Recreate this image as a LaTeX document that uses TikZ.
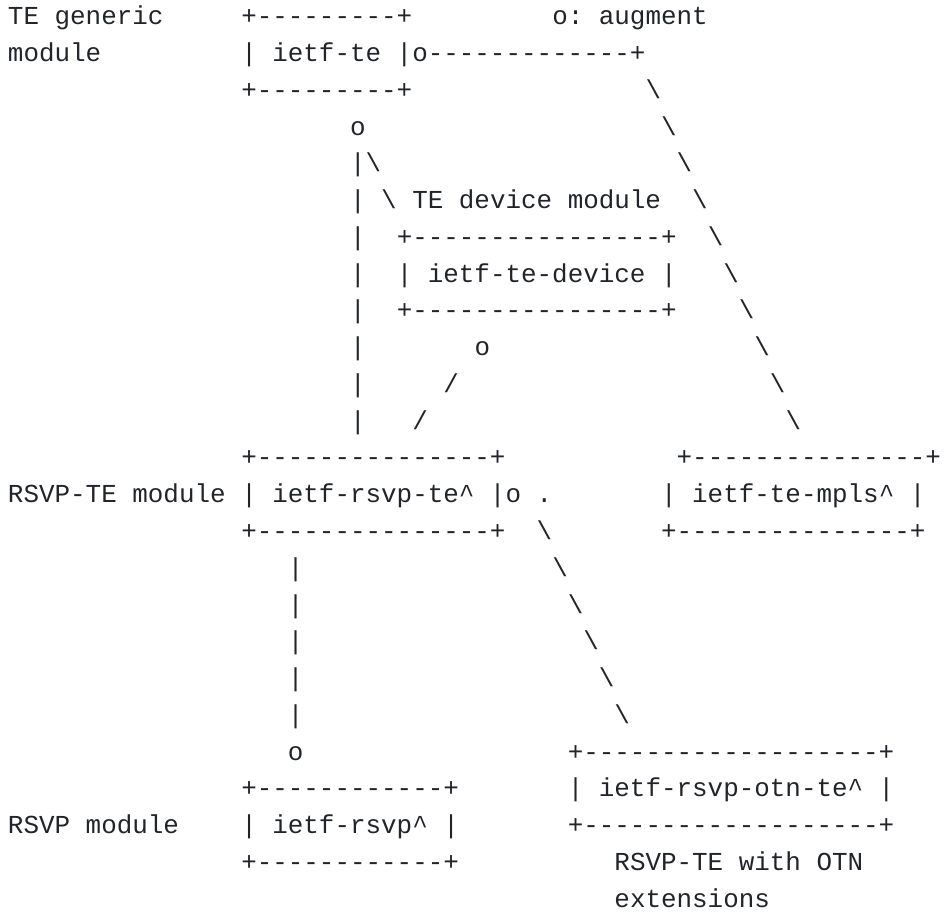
\documentclass[tikz,border=0pt]{standalone}
\usepackage{fontspec}
\setmonofont{Liberation Mono}[Ligatures=TeXOff]
\definecolor{ink}{RGB}{33,37,41}
\tikzset{txt/.style={anchor=base west, inner sep=0pt, outer sep=0pt,
  font=\ttfamily\fontsize{25.91}{31}\selectfont, text=ink}}
\newcommand\seg[3]{\node[txt] (r#2c#1) at ({8+#1*15.55},{891-(#2-1)*36.75}) {#3};}
\newcommand\bs{\textbackslash}
\newcommand\ct{\textasciicircum}
\begin{document}
\begin{tikzpicture}[x=1pt,y=1pt]
\useasboundingbox (0,0) rectangle (944,916);
\seg{0}{1}{TE generic}\seg{15}{1}{+---------+}\seg{35}{1}{o: augment}
\seg{0}{2}{module}\seg{15}{2}{| ietf-te |o-------------+}
\seg{15}{3}{+---------+}\seg{41}{3}{\bs}
\seg{22}{4}{o}\seg{42}{4}{\bs}
\seg{22}{5}{|\bs}\seg{43}{5}{\bs}
\seg{22}{6}{| \bs{} TE device module}\seg{44}{6}{\bs}
\seg{22}{7}{|}\seg{25}{7}{+----------------+}\seg{45}{7}{\bs}
\seg{22}{8}{|}\seg{25}{8}{| ietf-te-device |}\seg{46}{8}{\bs}
\seg{22}{9}{|}\seg{25}{9}{+----------------+}\seg{47}{9}{\bs}
\seg{22}{10}{|}\seg{30}{10}{o}\seg{48}{10}{\bs}
\seg{22}{11}{|}\seg{28}{11}{/}\seg{49}{11}{\bs}
\seg{22}{12}{|}\seg{26}{12}{/}\seg{50}{12}{\bs}
\seg{15}{13}{+---------------+}\seg{43}{13}{+---------------+}
\seg{0}{14}{RSVP-TE module}\seg{15}{14}{| ietf-rsvp-te\ct{} |o}\seg{34}{14}{.}\seg{42}{14}{| ietf-te-mpls\ct{} |}
\seg{15}{15}{+---------------+}\seg{34}{15}{\bs}\seg{42}{15}{+---------------+}
\seg{18}{16}{|}\seg{35}{16}{\bs}
\seg{18}{17}{|}\seg{36}{17}{\bs}
\seg{18}{18}{|}\seg{37}{18}{\bs}
\seg{18}{19}{|}\seg{38}{19}{\bs}
\seg{18}{20}{|}\seg{39}{20}{\bs}
\seg{18}{21}{o}\seg{36}{21}{+-------------------+}
\seg{15}{22}{+------------+}\seg{36}{22}{| ietf-rsvp-otn-te\ct{} |}
\seg{0}{23}{RSVP module}\seg{15}{23}{| ietf-rsvp\ct{} |}\seg{36}{23}{+-------------------+}
\seg{15}{24}{+------------+}\seg{39}{24}{RSVP-TE with OTN}
\seg{39}{25}{extensions}
\end{tikzpicture}
\end{document}
